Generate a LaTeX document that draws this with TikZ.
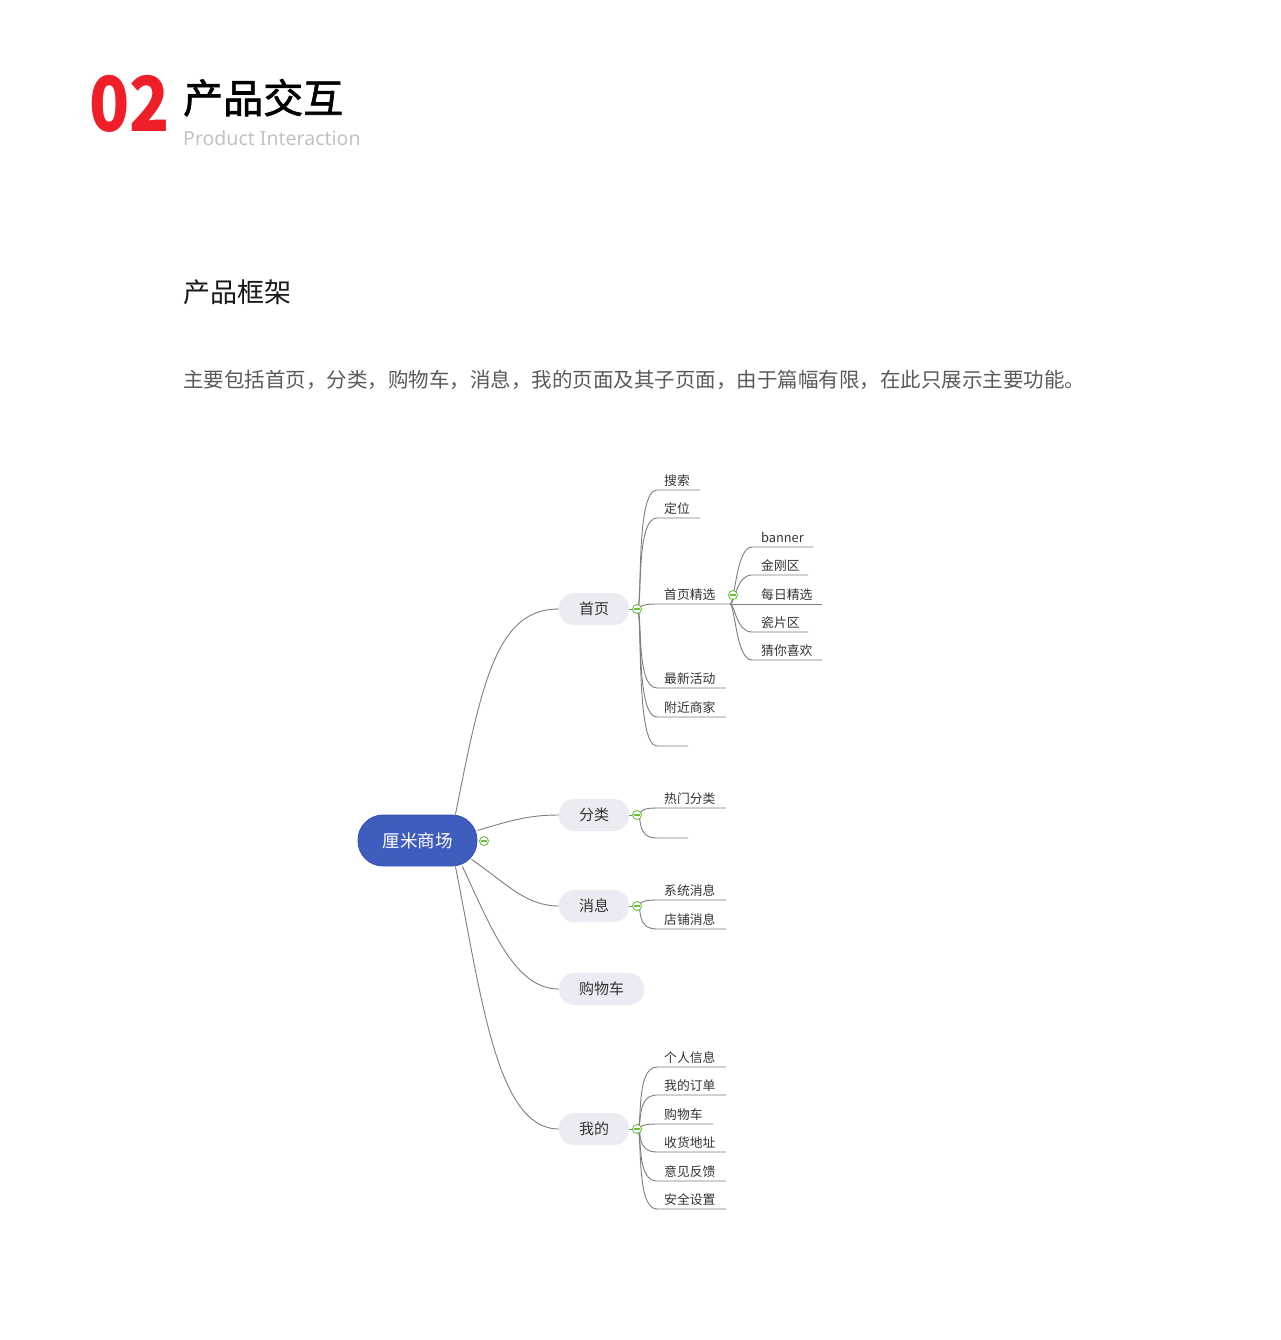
\documentclass[tikz,border=0pt]{standalone}
\usepackage{fontspec}
\setmainfont{Noto Sans CJK SC}
\newfontfamily\latinsans{Noto Sans}
\newfontfamily\cjkmid[FakeBold=1.6]{Noto Sans CJK SC}
\usetikzlibrary{calc}
\definecolor{redc}{HTML}{F01E28}
\definecolor{rootblue}{HTML}{3F5CBF}
\definecolor{rootedge}{HTML}{3550AE}
\definecolor{branchbg}{HTML}{EBEBF3}
\definecolor{linec}{HTML}{7E7E7E}
\definecolor{hubgreen}{HTML}{6CBF3F}
\definecolor{txtc}{HTML}{333333}
\definecolor{desc}{HTML}{5A5A5A}
\definecolor{subt}{HTML}{C2C2C2}
\newcommand\mmleaf[7]{% name, hub, x, y, len, text, label dx
  \coordinate (#1) at (#3,#4);
  \node[leaftext] (#1t) at ($(#1)+(#7,-5)$) {#6};
  \draw[conn] (#2) .. controls +(6,0) and +(-22,0) .. (#1) -- ++(#5,0);
}
\begin{document}
\begin{tikzpicture}[x=1pt,y=-1pt,
  conn/.style={draw=linec, line width=0.9pt},
  branch/.style={fill=branchbg, rounded corners=15pt, minimum height=32pt, minimum width=70pt, inner sep=0pt, font=\fontsize{15}{15}\selectfont, text=txtc},
  leaftext/.style={anchor=base west, inner sep=0pt, font=\fontsize{12.8}{12.8}\selectfont, text=txtc},
  hub/.style={circle, draw=hubgreen, fill=white, line width=0.9pt, minimum size=9pt, inner sep=0pt,
    path picture={\draw[hubgreen, line width=1.3pt] ([xshift=-2.6pt]path picture bounding box.center) -- ([xshift=2.6pt]path picture bounding box.center);}},
]
\useasboundingbox (0,0) rectangle (1280,1340);

% header
\node[anchor=base west, inner sep=0pt, text=redc, font=\fontsize{76}{76}\selectfont\bfseries, xscale=0.87, transform shape] (num) at (89,132) {02};
\node[anchor=base west, inner sep=0pt, text=black, font=\cjkmid\fontsize{40}{40}\selectfont] (title) at (183,113) {产品交互};
\node[anchor=base west, inner sep=0pt, text=subt, font=\latinsans\fontsize{19.5}{19.5}\selectfont] (subtitle) at (183,146) {Product Interaction};
\node[anchor=base west, inner sep=0pt, text=black!90, font=\fontsize{27}{27}\selectfont] (sect) at (183,302) {产品框架};
\node[anchor=base west, inner sep=0pt, text=desc, font=\fontsize{20.5}{20.5}\selectfont] (descr) at (183,387.5) {主要包括首页，分类，购物车，消息，我的页面及其子页面，由于篇幅有限，在此只展示主要功能。};

% root and branches
\node[fill=rootblue, draw=rootedge, line width=0.8pt, rounded corners=25pt, minimum width=119pt, minimum height=51pt, inner sep=0pt, text=white, font=\fontsize{17.5}{17.5}\selectfont] (root) at (417.5,840.5) {厘米商场};
\node[branch] (b1) at (594,609) {首页};
\node[branch] (b2) at (594,815) {分类};
\node[branch] (b3) at (594,906) {消息};
\node[branch, minimum width=85pt] (b4) at (601.5,989) {购物车};
\node[branch] (b5) at (594,1129) {我的};

\coordinate (r1) at ($(root.north east)+(-22,0)$);
\coordinate (r2) at ($(root.east)+(0,-10)$);
\coordinate (r3) at ($(root.south east)+(-6,-7)$);
\coordinate (r4) at ($(root.south east)+(-15,0)$);
\coordinate (r5) at ($(root.south east)+(-22,0)$);

\draw[conn] (r1) .. controls (482,680) and (497,609) .. (b1.west);
\draw[conn] (r2) .. controls (512,820) and (530,815) .. (b2.west);
\draw[conn] (r3) .. controls (505,882) and (525,906) .. (b3.west);
\draw[conn] (r4) .. controls (492,930) and (515,989) .. (b4.west);
\draw[conn] (r5) .. controls (482,1000) and (497,1129) .. (b5.west);

% hubs
\coordinate (hA) at (637,609);
\coordinate (hB) at (730,604);
\coordinate (hC) at (637,815);
\coordinate (hD) at (637,906);
\coordinate (hE) at (637,1129);
\draw[conn] (b1.east) -- (hA);
\draw[conn] (b2.east) -- (hC);
\draw[conn] (b3.east) -- (hD);
\draw[conn] (b5.east) -- (hE);

% 首页 leaves
\mmleaf{a1}{hA}{657}{490}{43}{搜索}{7}
\mmleaf{a2}{hA}{657}{518}{43}{定位}{7}
\coordinate (a3) at (657,604);
\node[leaftext] (a3t) at ($(a3)+(7,-5)$) {首页精选};
\draw[conn] (hA) .. controls +(6,0) and +(-22,0) .. (a3) -- (hB);
\mmleaf{a4}{hA}{657}{688}{69}{最新活动}{7}
\mmleaf{a5}{hA}{657}{717}{69}{附近商家}{7}
\mmleaf{a6}{hA}{657}{746}{31}{}{7}

% 首页精选 sub leaves
\newcommand\subleaf[4]{%
  \coordinate (#1) at (752,#2);
  \node[leaftext] (#1t) at ($(#1)+(9,-5)$) {#4};
  \draw[conn] (hB) .. controls +(5,0) and +(-16,0) .. (#1) -- ++(#3,0);
}
\subleaf{s1}{547}{61}{banner}
\subleaf{s2}{575}{56}{金刚区}
\coordinate (s3) at (822,604);
\node[leaftext] (s3t) at (761,599) {每日精选};
\draw[conn] (hB) -- (s3);
\subleaf{s4}{632}{56}{瓷片区}
\subleaf{s5}{660}{70}{猜你喜欢}

% 分类 leaves
\mmleaf{c1}{hC}{657}{808}{69}{热门分类}{7}
\mmleaf{c2}{hC}{657}{838}{31}{}{7}

% 消息 leaves
\mmleaf{d1}{hD}{657}{900}{69}{系统消息}{7}
\mmleaf{d2}{hD}{657}{929}{69}{店铺消息}{7}

% 我的 leaves
\mmleaf{e1}{hE}{657}{1067}{69}{个人信息}{7}
\mmleaf{e2}{hE}{657}{1095}{69}{我的订单}{7}
\mmleaf{e3}{hE}{657}{1124}{56}{购物车}{7}
\mmleaf{e4}{hE}{657}{1152}{69}{收货地址}{7}
\mmleaf{e5}{hE}{657}{1181}{69}{意见反馈}{7}
\mmleaf{e6}{hE}{657}{1209}{69}{安全设置}{7}

% collapse markers
\node[hub] (k0) at (484,841) {};
\node[hub] (kA) at (hA) {};
\node[hub] (kB) at (733,595) {};
\node[hub] (kC) at (hC) {};
\node[hub] (kD) at (hD) {};
\node[hub] (kE) at (hE) {};
\end{tikzpicture}
\end{document}
